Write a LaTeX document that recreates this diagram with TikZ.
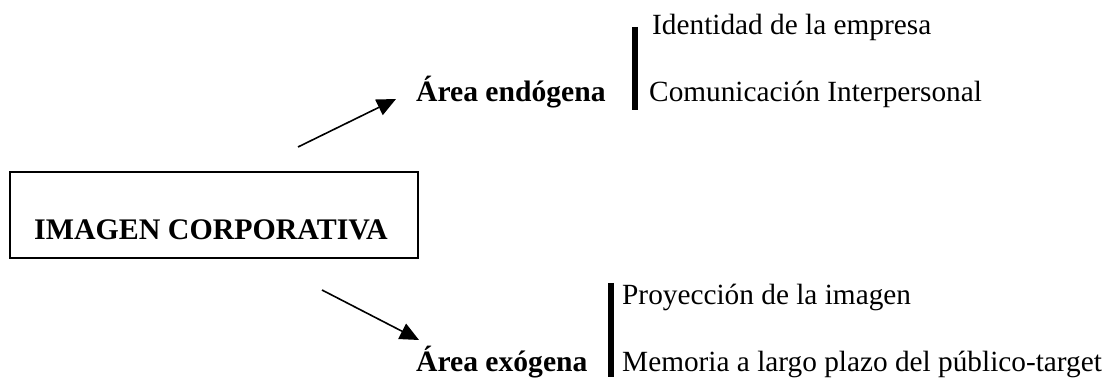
\documentclass[tikz,border=0pt]{standalone}
\usepackage{fontspec}
\setmainfont{Liberation Serif}
\usetikzlibrary{arrows.meta}
\tikzset{
  txt/.style={anchor=base west, inner sep=0pt, font=\fontsize{29.3}{35}\selectfont},
  btxt/.style={txt, font=\fontsize{29.6}{35}\selectfont\bfseries},
  bar/.style={line width=6pt},
  arr/.style={line width=1.6pt, -{Triangle[length=19pt,width=17pt]}},
  mainbox/.style={draw, line width=1.4pt, minimum width=408pt, minimum height=86pt, inner sep=0pt}
}
\begin{document}
\begin{tikzpicture}[x=1pt,y=1pt]
\useasboundingbox (0,0) rectangle (1108,379);
% main box
\node[mainbox] (box) at (214,164) {};
\node[anchor=base, inner sep=0pt, font=\fontsize{29.9}{35}\selectfont\bfseries] (main) at (211,139) {IMAGEN CORPORATIVA};
% upper branch
\node[btxt] (endo) at (416,277) {Área endógena};
\node[txt] (ident) at (652,344) {Identidad de la empresa};
\node[txt] (comu) at (649,277) {Comunicación Interpersonal};
\coordinate (b1top) at (635,352);
\coordinate (b1bot) at (635,269);
\draw[bar] (b1top) -- (b1bot);
% lower branch
\node[btxt] (exo) at (416,7) {Área exógena};
\node[txt] (proy) at (622,74) {Proyección de la imagen};
\node[txt] (memo) at (622,7) {Memoria a largo plazo del público-target};
\coordinate (b2top) at (611,96);
\coordinate (b2bot) at (611,2);
\draw[bar] (b2top) -- (b2bot);
% arrows
\coordinate (a1s) at (298,232);
\coordinate (a1e) at (396,280);
\draw[arr] (a1s) -- (a1e);
\coordinate (a2s) at (322,89);
\coordinate (a2e) at (419,39);
\draw[arr] (a2s) -- (a2e);
\end{tikzpicture}
\end{document}
